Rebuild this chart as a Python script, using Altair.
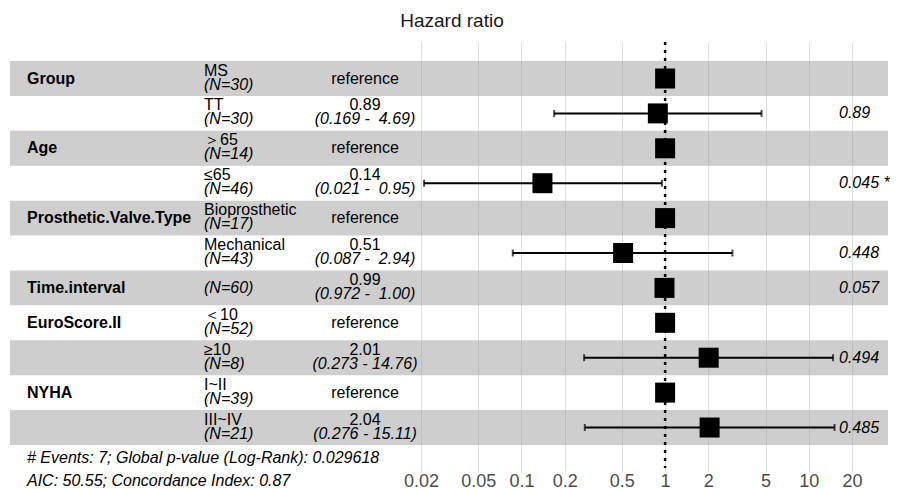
import altair as alt
import pandas as pd

variables = ["Group", "", "Age", "", "Prosthetic.Valve.Type", "", "Time.interval",
             "EuroScore.II", "", "NYHA", ""]
levels = ["MS", "TT", "＞65", "≤65", "Bioprosthetic", "Mechanical", "", "＜10", "≥10",
          "I~II", "III~IV"]
n_obs = [30, 30, 14, 46, 17, 43, 60, 52, 8, 39, 21]
hazard = [1, 0.89, 1, 0.14, 1, 0.51, 0.99, 1, 2.01, 1, 2.04]
ci_low = [None, 0.169, None, 0.021, None, 0.087, 0.972, None, 0.273, None, 0.276]
ci_high = [None, 4.69, None, 0.95, None, 2.94, 1.00, None, 14.76, None, 15.11]
estimate_text = ["reference", "0.89", "reference", "0.14", "reference", "0.51", "0.99",
                 "reference", "2.01", "reference", "2.04"]
ci_text = ["", "(0.169 - \u00a04.69)", "", "(0.021 - \u00a00.95)", "", "(0.087 - \u00a02.94)",
           "(0.972 - \u00a01.00)", "", "(0.273 - 14.76)", "", "(0.276 - 15.11)"]
p_text = ["", "0.89", "", "0.045 *", "", "0.448", "0.057", "", "0.494", "", "0.485"]
notes = ["# Events: 7; Global p-value (Log-Rank): 0.029618",
         "AIC: 50.55; Concordance Index: 0.87"]
ticks = [0.02, 0.05, 0.1, 0.2, 0.5, 1, 2, 5, 10, 20]
title_text = ["Hazard ratio"]

df = pd.DataFrame({
    "row": list(range(1, len(variables) + 1)),
    "variable": variables,
    "level": levels,
    "n": n_obs,
    "hr": hazard,
    "lo": ci_low,
    "hi": ci_high,
    "est": estimate_text,
    "ci": ci_text,
    "p": p_text,
})

FONT = "Liberation Sans"
W, H = 878, 426

xscale = alt.Scale(type="log", domain=[2.754e-5, 35.6], nice=False)
xaxis = alt.Axis(values=ticks, title=None, format="~g", grid=True, gridColor="#dedede",
                 gridWidth=1, domain=False, tickSize=4, tickColor="#dedede",
                 labelFontSize=18, labelColor="#4d4d4d", labelFont=FONT, labelPadding=0,
                 labelOverlap=False, labelFlush=False)
yscale = alt.Scale(domain=[-0.046, 12.16], reverse=True, nice=False, zero=False)


def X(field):
    return alt.X(field, type="quantitative", scale=xscale, axis=xaxis)


def Y(field):
    return alt.Y(field, type="quantitative", scale=yscale, axis=None)


base = alt.Chart(df)

bands = base.transform_filter("datum.row % 2 == 1").transform_calculate(
    y0="datum.row - 0.5", y1="datum.row + 0.5"
).mark_rect(color="#9e9e9e", opacity=0.5).encode(
    y=Y("y0"), y2="y1:Q", x=alt.value(0), x2=alt.value(W)
)

refline = alt.Chart(pd.DataFrame({"ref": [1]})).mark_rule(
    color="black", strokeWidth=2.5, strokeDash=[3, 5]
).encode(x=X("ref"))

ci_data = base.transform_filter("datum.lo != null")
errbars = ci_data.mark_rule(color="black", strokeWidth=2).encode(
    x=X("lo"), x2="hi:Q", y=Y("row"))
cap_lo = ci_data.mark_tick(orient="vertical", size=7, thickness=2, color="black").encode(
    x=X("lo"), y=Y("row"))
cap_hi = ci_data.mark_tick(orient="vertical", size=7, thickness=2, color="black").encode(
    x=X("hi"), y=Y("row"))

squares = base.mark_square(size=400, color="black", opacity=1).encode(
    x=X("hr"), y=Y("row"))

txt = dict(font=FONT, fontSize=16, color="black", baseline="middle")

var_text = base.transform_filter("datum.variable != ''").mark_text(
    align="left", fontWeight="bold", **txt).encode(
    x=alt.value(17), y=Y("row"), text="variable:N")

level_top = base.transform_filter("datum.level != ''").mark_text(
    align="left", dy=-8, **txt).encode(x=alt.value(194), y=Y("row"), text="level:N")
n_two = base.transform_filter("datum.level != ''").transform_calculate(
    nt="'(N=' + datum.n + ')'").mark_text(align="left", dy=6, fontStyle="italic", **txt).encode(
    x=alt.value(194), y=Y("row"), text="nt:N")
n_one = base.transform_filter("datum.level == ''").transform_calculate(
    nt="'(N=' + datum.n + ')'").mark_text(align="left", fontStyle="italic", **txt).encode(
    x=alt.value(194), y=Y("row"), text="nt:N")

est_ref = base.transform_filter("datum.ci == ''").mark_text(align="center", **txt).encode(
    x=alt.value(355), y=Y("row"), text="est:N")
est_top = base.transform_filter("datum.ci != ''").mark_text(
    align="center", dy=-8, **txt).encode(x=alt.value(355), y=Y("row"), text="est:N")
ci_line = base.transform_filter("datum.ci != ''").mark_text(
    align="center", dy=6, fontStyle="italic", **txt).encode(
    x=alt.value(355), y=Y("row"), text="ci:N")

p_vals = base.transform_filter("datum.p != ''").mark_text(
    align="left", fontStyle="italic", **txt).encode(
    x=alt.value(829), y=Y("row"), text="p:N")

title = alt.Chart(pd.DataFrame({"t": title_text})).mark_text(
    font=FONT, fontSize=19, color="#1a1a1a", align="center", baseline="middle").encode(
    text="t:N", x=alt.value(442), y=alt.value(-21))

note1 = alt.Chart(pd.DataFrame({"t": notes[:1]})).mark_text(
    align="left", fontStyle="italic", **txt).encode(
    text="t:N", x=alt.value(17), y=alt.value(416))
note2 = alt.Chart(pd.DataFrame({"t": notes[1:]})).mark_text(
    align="left", fontStyle="italic", **txt).encode(
    text="t:N", x=alt.value(17), y=alt.value(439))

chart = alt.layer(
    bands, refline, errbars, cap_lo, cap_hi, squares,
    var_text, level_top, n_two, n_one, est_ref, est_top, ci_line, p_vals,
    title, note1, note2,
).properties(
    width=W, height=H,
    padding={"left": 2, "top": 34, "right": 2, "bottom": 21},
    autosize=alt.AutoSizeParams(type="none"),
).configure_view(strokeWidth=0)

chart.save("out.html", embed_options={"renderer": "svg", "actions": False})
